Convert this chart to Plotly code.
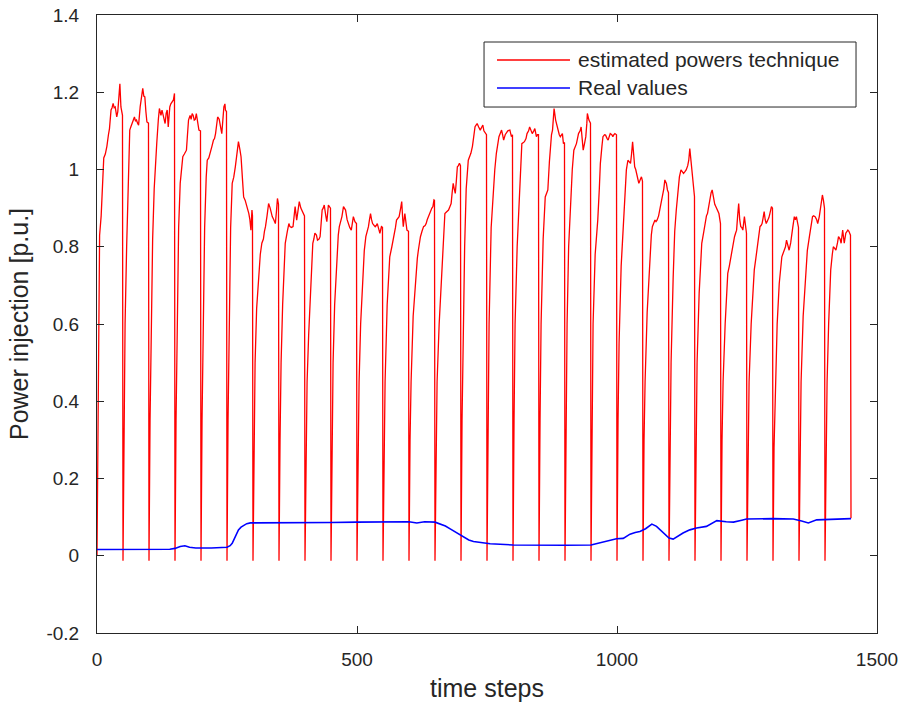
import plotly.graph_objects as go

# ---------------- data ----------------
# estimated powers technique: (time step, value) points, one row per ~50-step cycle
red_cycles = [
    [(0,0.0),(2,0.45),(4,0.75),(5,0.83),(8,0.88),(11,0.97),(13,1.03),(16,1.04),(19,1.06),(22,1.09),(24,1.106),(27,1.154),(29,1.16),(31,1.171),(33,1.16),(35,1.162),(38,1.136),(40,1.15),(42,1.18),(44,1.222),(46,1.162),(48,1.149),(49,1.14)],
    [(50,-0.013),(52,0.35),(54,0.6),(57,0.8),(60,0.98),(63,1.102),(65,1.11),(67,1.119),(70,1.13),(72,1.136),(74,1.125),(76,1.128),(78,1.12),(80,1.115),(83,1.162),(86,1.19),(88,1.21),(90,1.19),(92,1.188),(94,1.15),(96,1.123),(99,1.12)],
    [(100,-0.013),(102,0.35),(104,0.6),(107,0.82),(110,0.95),(112,1.007),(115,1.07),(118,1.13),(120,1.158),(123,1.14),(125,1.154),(128,1.136),(131,1.119),(133,1.145),(135,1.154),(137,1.11),(140,1.162),(142,1.17),(144,1.175),(147,1.18),(149,1.197)],
    [(150,-0.013),(152,0.35),(154,0.6),(157,0.85),(160,0.964),(163,1.0),(165,1.033),(168,1.04),(170,1.045),(172,1.05),(174,1.09),(176,1.128),(179,1.14),(181,1.13),(183,1.145),(185,1.14),(187,1.128),(189,1.13),(191,1.145),(193,1.13),(196,1.102),(199,1.1)],
    [(200,-0.013),(202,0.35),(204,0.6),(207,0.85),(210,0.98),(212,1.024),(215,1.03),(218,1.042),(221,1.06),(224,1.076),(226,1.08),(228,1.093),(230,1.12),(232,1.136),(235,1.13),(237,1.119),(239,1.1),(240,1.093),(242,1.13),(244,1.162),(246,1.17),(247,1.154),(249,1.15)],
    [(250,-0.013),(252,0.35),(254,0.6),(257,0.85),(260,0.964),(263,0.98),(266,1.007),(268,1.03),(270,1.05),(272,1.072),(275,1.05),(277,1.033),(280,0.97),(282,0.929),(285,0.92),(287,0.912),(290,0.9),(292,0.886),(294,0.87),(296,0.843),(298,0.895),(299,0.88)],
    [(300,-0.013),(302,0.3),(304,0.5),(307,0.64),(311,0.74),(314,0.78),(317,0.809),(320,0.82),(322,0.84),(324,0.852),(327,0.88),(330,0.912),(333,0.9),(335,0.885),(337,0.878),(340,0.87),(343,0.86),(345,0.89),(347,0.925),(349,0.91)],
    [(350,-0.013),(352,0.3),(354,0.5),(357,0.65),(360,0.75),(362,0.809),(366,0.84),(369,0.86),(371,0.852),(374,0.85),(377,0.852),(379,0.88),(381,0.904),(384,0.869),(387,0.9),(389,0.917),(392,0.9),(394,0.895),(397,0.886),(399,0.88)],
    [(400,-0.013),(402,0.3),(404,0.45),(407,0.57),(410,0.662),(413,0.77),(415,0.809),(417,0.82),(419,0.835),(422,0.83),(424,0.817),(427,0.82),(429,0.826),(431,0.86),(433,0.895),(435,0.9),(437,0.908),(440,0.88),(442,0.865),(445,0.908),(448,0.904),(449,0.9)],
    [(450,-0.013),(452,0.3),(454,0.5),(457,0.65),(461,0.774),(464,0.83),(466,0.852),(469,0.865),(471,0.878),(474,0.904),(476,0.9),(478,0.895),(481,0.87),(483,0.86),(486,0.85),(489,0.843),(491,0.86),(493,0.878),(496,0.865),(499,0.86)],
    [(500,-0.013),(502,0.3),(504,0.45),(507,0.6),(511,0.723),(514,0.79),(517,0.826),(520,0.84),(522,0.852),(524,0.87),(526,0.886),(528,0.87),(530,0.86),(533,0.855),(535,0.852),(537,0.855),(539,0.86),(542,0.845),(544,0.835),(547,0.852),(549,0.85)],
    [(550,-0.013),(552,0.3),(554,0.45),(558,0.65),(563,0.774),(567,0.8),(571,0.826),(574,0.85),(576,0.869),(579,0.875),(581,0.878),(584,0.9),(586,0.917),(588,0.87),(589,0.852),(592,0.886),(594,0.86),(596,0.843),(599,0.84)],
    [(600,-0.013),(602,0.3),(604,0.45),(608,0.62),(613,0.731),(616,0.77),(618,0.791),(620,0.81),(622,0.826),(625,0.84),(628,0.852),(631,0.855),(633,0.86),(635,0.87),(637,0.878),(640,0.885),(642,0.895),(644,0.9),(646,0.904),(648,0.921),(649,0.92)],
    [(650,-0.013),(652,0.3),(654,0.45),(658,0.6),(663,0.74),(666,0.83),(669,0.886),(672,0.89),(676,0.895),(679,0.905),(681,0.912),(683,0.94),(685,0.964),(687,0.95),(689,0.938),(691,0.97),(693,1.007),(695,1.01),(697,1.016),(699,1.01)],
    [(700,-0.013),(702,0.35),(704,0.6),(707,0.8),(710,0.95),(714,1.024),(717,1.035),(719,1.042),(722,1.06),(724,1.076),(727,1.111),(729,1.115),(731,1.119),(734,1.11),(737,1.102),(740,1.11),(742,1.115),(744,1.1),(747,1.093),(749,1.09)],
    [(750,-0.013),(752,0.35),(754,0.6),(758,0.85),(762,0.955),(765,1.0),(768,1.042),(771,1.07),(773,1.085),(776,1.095),(778,1.102),(780,1.09),(782,1.076),(785,1.09),(787,1.093),(790,1.1),(794,1.102),(797,1.085),(799,1.09)],
    [(800,-0.013),(802,0.35),(804,0.6),(808,0.8),(812,0.921),(815,1.02),(817,1.067),(820,1.07),(822,1.072),(825,1.08),(827,1.093),(830,1.1),(832,1.11),(835,1.1),(837,1.093),(840,1.1),(842,1.106),(845,1.085),(847,1.09),(849,1.09)],
    [(850,-0.013),(852,0.35),(854,0.6),(858,0.82),(862,0.929),(865,0.94),(867,0.947),(870,1.02),(872,1.067),(874,1.09),(876,1.102),(878,1.14),(879,1.158),(882,1.128),(885,1.11),(887,1.102),(889,1.09),(891,1.085),(893,1.09),(895,1.093),(897,1.067),(899,1.07)],
    [(900,-0.013),(902,0.35),(904,0.6),(907,0.8),(910,0.895),(914,1.0),(917,1.05),(920,1.06),(922,1.067),(924,1.08),(926,1.093),(929,1.1),(931,1.11),(933,1.08),(935,1.05),(938,1.07),(940,1.085),(942,1.12),(943,1.145),(946,1.128),(948,1.12),(949,1.12)],
    [(950,-0.013),(952,0.35),(954,0.6),(958,0.78),(963,0.869),(966,0.95),(968,1.016),(971,1.06),(973,1.085),(976,1.09),(978,1.089),(981,1.08),(983,1.076),(985,1.085),(987,1.093),(990,1.09),(992,1.085),(994,1.09),(996,1.093),(999,1.09)],
    [(1000,-0.013),(1002,0.35),(1004,0.55),(1008,0.75),(1012,0.843),(1015,0.93),(1018,0.999),(1021,1.024),(1024,1.02),(1026,1.016),(1028,1.04),(1030,1.072),(1032,1.04),(1034,1.007),(1036,1.0),(1038,0.99),(1040,0.975),(1042,0.964),(1045,0.975),(1047,0.981),(1049,0.97)],
    [(1050,-0.013),(1052,0.3),(1054,0.45),(1058,0.63),(1063,0.774),(1066,0.83),(1068,0.852),(1071,0.86),(1073,0.869),(1075,0.865),(1077,0.869),(1080,0.88),(1082,0.895),(1085,0.91),(1088,0.929),(1090,0.95),(1092,0.973),(1095,0.964),(1097,0.947),(1099,0.94)],
    [(1100,-0.013),(1102,0.3),(1104,0.5),(1108,0.72),(1111,0.84),(1114,0.895),(1117,0.94),(1120,0.981),(1123,0.999),(1126,0.995),(1128,0.99),(1131,0.995),(1133,0.999),(1136,1.01),(1138,1.024),(1140,1.054),(1142,1.03),(1144,1.007),(1147,0.96),(1149,0.93)],
    [(1150,-0.013),(1152,0.3),(1154,0.5),(1158,0.68),(1163,0.809),(1167,0.84),(1170,0.869),(1172,0.88),(1174,0.886),(1177,0.91),(1179,0.93),(1181,0.94),(1183,0.947),(1186,0.921),(1188,0.91),(1190,0.904),(1193,0.895),(1196,0.886),(1199,0.86)],
    [(1200,-0.013),(1202,0.3),(1204,0.45),(1208,0.6),(1213,0.731),(1216,0.75),(1219,0.774),(1222,0.8),(1226,0.826),(1228,0.835),(1230,0.843),(1232,0.88),(1234,0.912),(1236,0.87),(1238,0.852),(1240,0.85),(1242,0.843),(1245,0.878),(1247,0.86),(1249,0.835)],
    [(1250,-0.013),(1252,0.3),(1254,0.45),(1258,0.6),(1264,0.74),(1267,0.77),(1270,0.8),(1273,0.83),(1275,0.852),(1277,0.855),(1279,0.86),(1281,0.875),(1283,0.891),(1285,0.87),(1287,0.86),(1290,0.869),(1292,0.875),(1294,0.886),(1297,0.904),(1299,0.9)],
    [(1300,-0.013),(1302,0.28),(1304,0.42),(1308,0.6),(1312,0.705),(1315,0.75),(1317,0.774),(1320,0.785),(1322,0.791),(1324,0.8),(1326,0.817),(1329,0.8),(1331,0.791),(1334,0.81),(1336,0.835),(1338,0.85),(1341,0.878),(1343,0.87),(1345,0.878),(1348,0.852),(1349,0.85)],
    [(1350,-0.013),(1352,0.3),(1354,0.45),(1358,0.62),(1363,0.748),(1366,0.79),(1370,0.826),(1373,0.85),(1376,0.878),(1378,0.88),(1381,0.878),(1384,0.87),(1386,0.86),(1389,0.878),(1392,0.904),(1395,0.934),(1397,0.92),(1398,0.912),(1399,0.9)],
    [(1400,-0.013),(1402,0.3),(1404,0.45),(1407,0.6),(1411,0.74),(1414,0.78),(1416,0.8),(1419,0.795),(1421,0.791),(1424,0.81),(1426,0.826),(1429,0.82),(1431,0.809),(1434,0.843),(1437,0.809),(1440,0.835),(1442,0.84),(1444,0.843),(1446,0.84),(1448,0.835),(1449,0.83),(1450,0.097)],
]

# Real values: (time step, value)
blue_points = [
    (0,0.016),(50,0.016),(100,0.016),(140,0.017),(150,0.019),(160,0.024),(169,0.026),(178,0.022),
    (190,0.020),(220,0.020),(250,0.022),(256,0.026),(260,0.032),(264,0.045),(268,0.058),(272,0.067),
    (277,0.074),(282,0.079),(288,0.083),(295,0.085),(300,0.085),(350,0.085),(400,0.086),(450,0.086),
    (500,0.087),(550,0.088),(600,0.088),(615,0.085),(630,0.088),(650,0.087),(660,0.083),(670,0.077),
    (680,0.069),(692,0.059),(705,0.048),(715,0.041),(724,0.037),(740,0.033),(756,0.031),(800,0.028),
    (850,0.027),(900,0.027),(950,0.028),(965,0.033),(980,0.037),(990,0.041),(999,0.044),(1012,0.045),
    (1025,0.056),(1035,0.060),(1044,0.063),(1055,0.070),(1067,0.082),(1076,0.076),(1085,0.064),
    (1092,0.054),(1100,0.046),(1108,0.043),(1118,0.052),(1127,0.059),(1140,0.067),(1153,0.072),
    (1172,0.076),(1185,0.085),(1192,0.091),(1210,0.088),(1224,0.087),(1240,0.092),(1249,0.095),
    (1300,0.096),(1339,0.095),(1355,0.090),(1368,0.085),(1384,0.093),(1420,0.095),(1450,0.096),
]

x_tick_vals = [0, 500, 1000, 1500]
x_tick_text = ["0", "500", "1000", "1500"]
y_tick_vals = [-0.2, 0, 0.2, 0.4, 0.6, 0.8, 1.0, 1.2, 1.4]
y_tick_text = ["-0.2", "0", "0.2", "0.4", "0.6", "0.8", "1", "1.2", "1.4"]

series_names = ["estimated powers technique", "Real values"]
series_colors = ["#ff0000", "#0000ff"]

# ---------------- figure ----------------
red_x = [p[0] for cyc in red_cycles for p in cyc]
red_y = [p[1] for cyc in red_cycles for p in cyc]
blue_x = [p[0] for p in blue_points]
blue_y = [p[1] for p in blue_points]

FONT = "Liberation Sans, Arial, Helvetica, sans-serif"
AX = "#262626"

fig = go.Figure()
fig.add_trace(go.Scatter(x=red_x, y=red_y, mode="lines", name=series_names[0],
                         line=dict(color=series_colors[0], width=1.3), showlegend=False))
fig.add_trace(go.Scatter(x=blue_x, y=blue_y, mode="lines", name=series_names[1],
                         line=dict(color=series_colors[1], width=1.6), showlegend=False))

axis_common = dict(showgrid=False, zeroline=False, showline=True, linecolor=AX, linewidth=1,
                   mirror="ticks", ticks="inside", ticklen=7, tickcolor=AX, tickwidth=1,
                   tickfont=dict(family=FONT, size=19, color=AX))

fig.update_xaxes(range=[0, 1500], tickvals=x_tick_vals, ticktext=x_tick_text,
                 ticklabelstandoff=9,
                 title=dict(text="time steps", font=dict(family=FONT, size=25, color=AX), standoff=10),
                 **axis_common)
fig.update_yaxes(range=[-0.2, 1.4], tickvals=y_tick_vals, ticktext=y_tick_text,
                 ticklabelstandoff=13,
                 title=dict(text="Power injection [p.u.]", font=dict(family=FONT, size=25, color=AX), standoff=10),
                 **axis_common)

# legend box (MATLAB style) drawn in the plot-area frame
leg_x0, leg_x1, leg_y0, leg_y1 = 0.4962, 0.9731, 0.8511, 0.9563
row_y = [0.9272, 0.8819]
line_x0, line_x1, text_x = 0.5128, 0.6064, 0.6167
shapes = [dict(type="rect", xref="paper", yref="paper", x0=leg_x0, x1=leg_x1, y0=leg_y0, y1=leg_y1,
               line=dict(color=AX, width=1), fillcolor="white", layer="above")]
annotations = []
for name, col, ry in zip(series_names, series_colors, row_y):
    shapes.append(dict(type="line", xref="paper", yref="paper", x0=line_x0, x1=line_x1, y0=ry, y1=ry,
                       line=dict(color=col, width=1.5), layer="above"))
    annotations.append(dict(xref="paper", yref="paper", x=text_x, y=ry, text=name, showarrow=False,
                            xanchor="left", yanchor="middle", xshift=-2,
                            font=dict(family=FONT, size=21, color=AX)))

fig.update_layout(
    width=905, height=715,
    margin=dict(l=97, r=28, t=15, b=82, autoexpand=False),
    paper_bgcolor="white", plot_bgcolor="white",
    font=dict(family=FONT, color=AX),
    showlegend=False,
    shapes=shapes,
    annotations=annotations,
)

fig.write_html("out.html")
